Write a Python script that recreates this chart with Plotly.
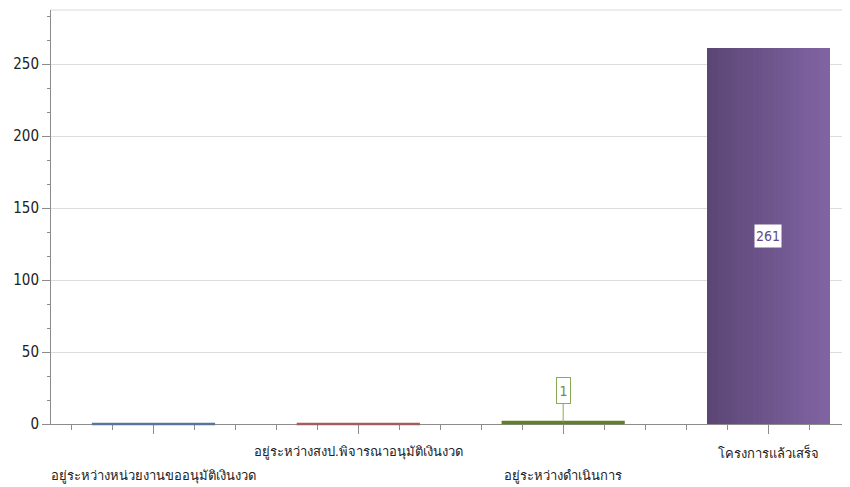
import plotly.graph_objects as go

categories = ["อยู่ระหว่างหน่วยงานขออนุมัติเงินงวด",
              "อยู่ระหว่างสงป.พิจารณาอนุมัติเงินงวด",
              "อยู่ระหว่างดำเนินการ",
              "โครงการแล้วเสร็จ"]
values = [0, 0, 1, 261]
colors = ["#5b7499", "#a35d5a", "#5f7f2a", "#6a5290"]
y_ticks = [0, 50, 100, 150, 200, 250]

FONT = "DejaVu Sans Condensed, Liberation Sans Narrow, sans-serif"
BAR_W = 0.6
LINE_MARKER_SIZE = 88  # line-ew symbol spans ~1.4x size -> ~123 px, matching the bar width
xs = list(range(len(categories)))

fig = go.Figure()

def lerp(c1, c2, t):
    return "rgb(%d,%d,%d)" % tuple(round(a + (b - a) * t) for a, b in zip(c1, c2))

left_c = (91, 70, 117)
right_c = (128, 100, 162)
N = 24
for i, (x, v) in enumerate(zip(xs, values)):
    if i == 3:
        # gradient bar built from thin strips of the same value
        for k in range(N):
            fig.add_trace(go.Bar(x=[x], y=[v], width=BAR_W / N + 0.002,
                                 offset=-BAR_W / 2 + k * BAR_W / N,
                                 marker=dict(color=lerp(left_c, right_c, k / (N - 1)), line_width=0),
                                 showlegend=False, hoverinfo="skip"))
    else:
        # near-zero bars drawn as flat bar-wide strokes
        fig.add_trace(go.Scatter(x=[x], y=[v], mode="markers",
                                 marker=dict(symbol="line-ew", size=LINE_MARKER_SIZE,
                                             line=dict(color=colors[i], width=2.5 if v == 0 else 3.5)),
                                 showlegend=False, hoverinfo="skip", cliponaxis=False))

annotations = []
# staggered category labels
for i, (x, c) in enumerate(zip(xs, categories)):
    annotations.append(dict(x=x, y=0, xref="x", yref="paper", text=c, showarrow=False,
                            yanchor="middle", yshift=-52 if i % 2 == 0 else -28,
                            font=dict(family=FONT, size=13, color="#222")))
# data labels
annotations.append(dict(x=xs[2], y=values[2], text=str(values[2]), showarrow=True,
                        arrowhead=0, arrowwidth=1, arrowcolor="#8aab55", ax=0, ay=-32,
                        width=11, height=23, align="center", valign="middle",
                        bgcolor="white", bordercolor="#8aab55", borderwidth=1, borderpad=1,
                        font=dict(family=FONT, size=14, color="#6f8f35")))
annotations.append(dict(x=xs[3], y=values[3] / 2, text=str(values[3]), showarrow=False,
                        width=24, height=20, bgcolor="white", borderpad=1,
                        font=dict(family=FONT, size=14, color="#5f4b8b")))

fig.update_layout(
    width=842, height=479,
    margin=dict(l=43, r=0, t=2, b=63, autoexpand=False),
    paper_bgcolor="white", plot_bgcolor="white",
    bargap=0, barmode="overlay",
    annotations=annotations,
    shapes=[dict(type="line", xref="paper", yref="paper", x0=0, x1=1, y0=1, y1=1,
                 line=dict(color="#d9d9d9", width=1))],
    xaxis=dict(range=[-0.5, 3.4], tickmode="array", tickvals=xs, ticktext=[""] * 4,
               automargin=False, layer="below traces",
               showgrid=False, zeroline=False, showline=True, linecolor="#8c8c8c", linewidth=1,
               ticks="outside", ticklen=9, tickcolor="#8c8c8c",
               minor=dict(dtick=0.2, tick0=0, ticks="outside", ticklen=5, tickcolor="#8c8c8c", showgrid=False)),
    yaxis=dict(range=[0, 287.5], tickmode="array", tickvals=y_ticks, automargin=False,
               showgrid=True, gridcolor="#dcdcdc", gridwidth=1, zeroline=False,
               showline=True, linecolor="#8c8c8c", linewidth=1,
               ticks="outside", ticklen=8, tickcolor="#8c8c8c",
               tickfont=dict(family=FONT, size=15, color="#222"),
               minor=dict(dtick=50 / 3, tick0=0, ticks="outside", ticklen=3, tickcolor="#8c8c8c", showgrid=False)),
)

fig.write_html("out.html")
